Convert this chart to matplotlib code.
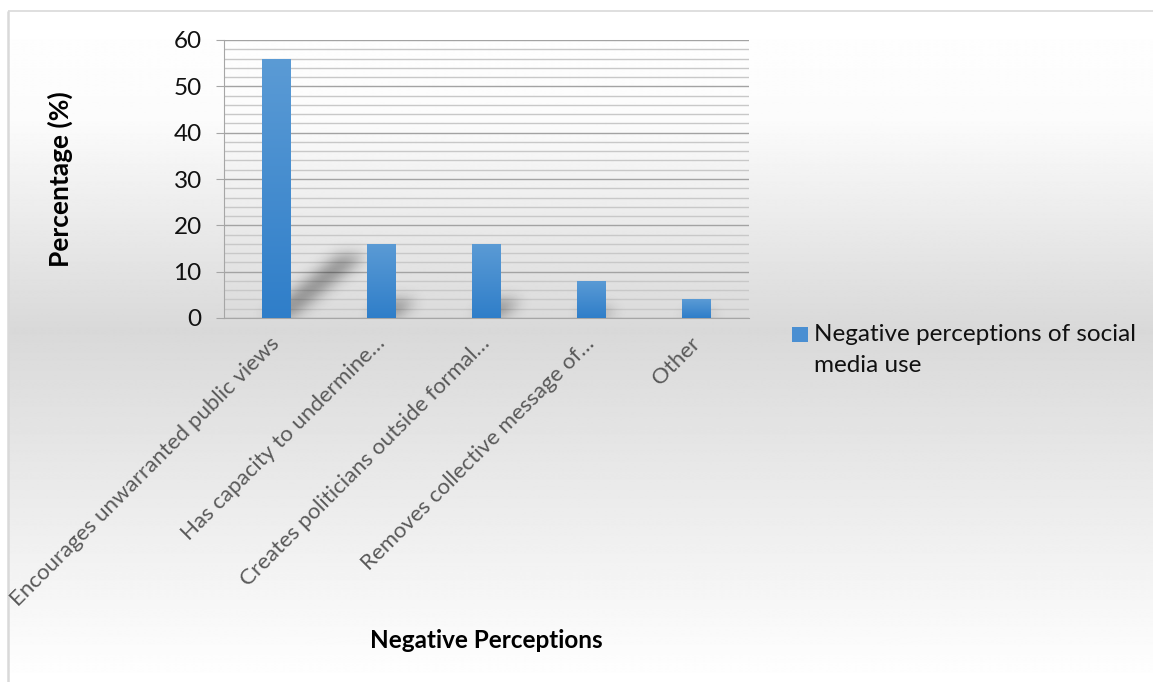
import numpy as np
import matplotlib
matplotlib.use("Agg")
import matplotlib.pyplot as plt
from matplotlib.patches import Rectangle
from matplotlib.path import Path
from matplotlib.colors import LinearSegmentedColormap
from matplotlib.ticker import MultipleLocator

# ---- data ----
categories = [
    "Encourages unwarranted public views",
    "Has capacity to undermine…",
    "Creates politicians outside formal…",
    "Removes collective message of…",
    "Other",
]
values = [56, 16, 16, 8, 4]
series_name = "Negative perceptions of social media use"
y_ticks = [0, 10, 20, 30, 40, 50, 60]
x_title = "Negative Perceptions"
y_title = "Percentage (%)"

plt.rcParams['font.family'] = ['Lato', 'DejaVu Sans']

W, H = 1153, 682
fig = plt.figure(figsize=(W / 100, H / 100), dpi=100)

# ---- chart-area background: soft vertical gradient with a thin frame ----
bg = fig.add_axes([0, 0, 1, 1], zorder=-10)
bg.set_xlim(0, W)
bg.set_ylim(H, 0)
bg.axis('off')
rows = np.linspace(11, H, 700)
shade = np.interp(rows, [11, 120, 330, H], [1.0, 0.985, 0.85, 1.0])
bg.imshow(np.repeat(shade[:, None], 2, axis=1), cmap='gray', vmin=0, vmax=1,
          extent=[8, W, H, 11], aspect='auto', interpolation='bilinear')
bg.plot([8, W], [11, 11], color='#d9d9d9', lw=1.2, solid_capstyle='butt')
bg.plot([8, 8], [11, H], color='#d9d9d9', lw=1.8, solid_capstyle='butt')

# ---- plot area ----
ax = fig.add_axes([224 / W, (H - 318) / H, 525 / W, 278 / H])
ax.set_facecolor('none')
x = np.arange(len(categories))
ax.set_xlim(-0.5, len(categories) - 0.5)
ax.set_ylim(y_ticks[0], y_ticks[-1])

ax.set_yticks(y_ticks)
ax.yaxis.set_minor_locator(MultipleLocator(2))
ax.grid(axis='y', which='major', color='#a3a3a3', lw=1.0, zorder=0)
ax.grid(axis='y', which='minor', color='#c8c8c8', lw=1.0, zorder=0)
ax.set_axisbelow(True)
for s in ('top', 'right'):
    ax.spines[s].set_visible(False)
ax.spines['left'].set_color('#a6a6a6')
ax.spines['bottom'].set_color('#a6a6a6')
ax.tick_params(axis='y', which='major', length=6, color='#a6a6a6',
               labelsize=17.5, labelcolor='#111111', pad=10)
ax.tick_params(axis='y', which='minor', length=0)
ax.tick_params(axis='x', length=0, pad=16)

# ---- bars with a vertical blue gradient ----
bar_w = 0.27
bars = ax.bar(x, values, width=bar_w, color='#4a8fd2', zorder=3)
blue = LinearSegmentedColormap.from_list('blue', ['#2f7ec9', '#5b9bd5'])
grad = np.linspace(0, 1, 256)[:, None]
for b in bars:
    x0, y0 = b.get_x(), b.get_y()
    w, h = b.get_width(), b.get_height()
    im = ax.imshow(grad, cmap=blue, origin='lower', aspect='auto',
                   extent=[x0, x0 + w, y0, y0 + h], zorder=4,
                   interpolation='bilinear')
    im.set_clip_path(b)

# ---- soft cast shadows behind the bars ----
nx, ny = 525, 278
xs = np.linspace(-0.5, len(categories) - 0.5, nx)
ys = np.linspace(y_ticks[0], y_ticks[-1], ny)
gx, gy = np.meshgrid(xs, ys)
pts = np.column_stack([gx.ravel(), gy.ravel()])
mask = np.zeros(gx.size)
px_per_y = ny / (y_ticks[-1] - y_ticks[0])
px_per_x = nx / len(categories)
for b in bars:
    x0, w, h = b.get_x(), b.get_width(), b.get_height()
    hp = h * px_per_y
    dx = 0.29 * hp / px_per_x
    dy = 0.24 * hp / px_per_y
    poly = Path([(x0, 0), (x0 + w, 0), (x0 + w + dx, dy), (x0 + dx, dy), (x0, 0)])
    mask = np.maximum(mask, poly.contains_points(pts).astype(float))
mask = mask.reshape(ny, nx)
sig = 7.0
k = np.arange(-21, 22)
kern = np.exp(-k ** 2 / (2 * sig ** 2))
kern /= kern.sum()
mask = np.apply_along_axis(lambda r: np.convolve(r, kern, mode='same'), 1, mask)
mask = np.apply_along_axis(lambda c: np.convolve(c, kern, mode='same'), 0, mask)
rgba = np.zeros((ny, nx, 4))
rgba[..., 3] = mask * 0.38
ax.imshow(rgba, origin='lower', aspect='auto', zorder=2,
          extent=[xs[0], xs[-1], ys[0], ys[-1]], interpolation='bilinear')
ax.set_xlim(-0.5, len(categories) - 0.5)
ax.set_ylim(y_ticks[0], y_ticks[-1])

# ---- category labels ----
ax.set_xticks(x)
ax.set_xticklabels(categories, rotation=45, ha='right', va='center',
                   rotation_mode='anchor', fontsize=16, color='#595959')

# ---- axis titles ----
ax.set_ylabel(y_title, fontsize=19, fontweight='bold', va='center')
ax.yaxis.set_label_coords((60 - 224) / 525, 0.5)
ax.set_xlabel(x_title, fontsize=17.5, fontweight='bold', va='center')
ax.xaxis.set_label_coords(0.5, (318 - 641) / 278)

# ---- legend ----
key = Rectangle((792 / W, 1 - 342 / H), 16 / W, 15 / H, transform=fig.transFigure,
                facecolor='#4a8fd2', edgecolor='none')
fig.patches.append(key)
words = series_name.split()
label = " ".join(words[:4]) + "\n" + " ".join(words[4:])
fig.text(814 / W, 1 - 324 / H, label, fontsize=17.5, va='top', ha='left',
         color='#111111', linespacing=1.58)

fig.savefig('out.png', dpi=100)
